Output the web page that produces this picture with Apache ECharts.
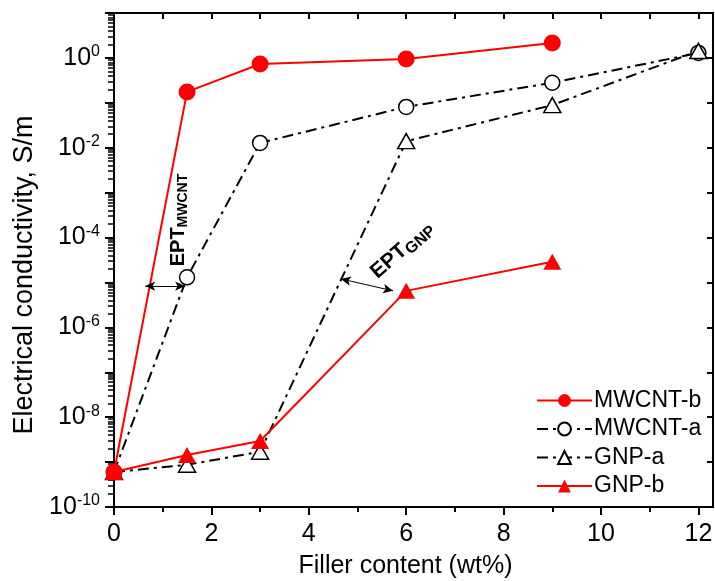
<!DOCTYPE html>
<html>
<head>
<meta charset="utf-8">
<script src="https://cdn.jsdelivr.net/npm/echarts@6/dist/echarts.min.js"></script>
<style>
  html, body { margin: 0; padding: 0; background: #fff; }
  #chart { width: 715px; height: 581px; }
</style>
</head>
<body>
<div id="chart"></div>
<script>
// filler content (wt%)
var xMwcntB = [0, 1.5, 3, 6, 9];
var yMwcntB = [6e-10, 0.175, 0.73, 0.95, 2.16];
var xMwcntA = [0, 1.5, 3, 6, 9, 12];
var yMwcntA = [6e-10, 1.3e-5, 0.0128, 0.081, 0.28, 1.29];
var xGnpA = [0, 1.5, 3, 6, 9, 12];
var yGnpA = [6e-10, 8.7e-10, 1.7e-9, 0.014, 0.089, 1.43];
var xGnpB = [0, 1.5, 3, 6, 9];
var yGnpB = [6e-10, 1.44e-9, 2.95e-9, 6.5e-6, 2.9e-5];

// ticks
var xMajor = [0, 2, 4, 6, 8, 10, 12];
var xMinor = [1, 3, 5, 7, 9, 11];
var xTop = [0, 1, 2, 3, 4, 5, 6, 7, 8, 9, 10, 11, 12];
var yLabels = [1e-10, 1e-8, 1e-6, 1e-4, 1e-2, 1];
var yDecades = [1e-10, 1e-9, 1e-8, 1e-7, 1e-6, 1e-5, 1e-4, 1e-3, 1e-2, 1e-1, 1, 10];
var yMinor = [];
for (var d = -10; d < 1; d++) {
  for (var k = 2; k <= 9; k++) yMinor.push(+(k * Math.pow(10, d)).toPrecision(3));
}

// EPT arrows (x, y pairs)
var arrowMwcnt = [[0.64, 8.3e-6], [1.46, 8.3e-6]];
var arrowGnp = [[4.66, 1.2e-5], [5.73, 6.5e-6]];

function pairs(xs, ys) {
  return xs.map(function (x, i) { return [x, ys[i]]; });
}

var font = '"Liberation Sans", Arial, sans-serif';
var hidden = { show: true, onZero: false, lineStyle: { color: 'rgba(0,0,0,0)', width: 0 } };
var chart = echarts.init(document.getElementById('chart'));

chart.setOption({
  animation: false,
  grid: { left: 114, right: 2, top: 13, bottom: 74, containLabel: false, outerBoundsMode: 'none' },
  textStyle: { fontFamily: font },
  legend: {
    orient: 'vertical',
    left: 531,
    top: 384,
    itemWidth: 55,
    itemHeight: 16,
    itemGap: 5.5,
    data: ['MWCNT-b', 'MWCNT-a', 'GNP-a', 'GNP-b'],
    textStyle: { fontSize: 23, color: '#000', fontFamily: font, padding: [0, 0, 0, -3] }
  },
  xAxis: [
    {
      type: 'value', position: 'bottom', min: 0, max: 12.3,
      name: 'Filler content (wt%)', nameLocation: 'middle', nameGap: 47,
      nameTextStyle: { fontSize: 25, color: '#000', padding: [0, 16, 0, 0] },
      axisLine: { onZero: false, lineStyle: { color: '#000', width: 2 } },
      axisTick: { show: true, inside: false, length: 8, customValues: xMajor, lineStyle: { width: 2 } },
      axisLabel: { customValues: xMajor, fontSize: 25, color: '#000', margin: 15 },
      splitLine: { show: false }
    },
    {
      type: 'value', position: 'bottom', min: 0, max: 12.3,
      axisLine: hidden,
      axisTick: { show: true, inside: false, length: 5, customValues: xMinor, lineStyle: { color: '#000', width: 2 } },
      axisLabel: { show: false },
      splitLine: { show: false }
    },
    {
      type: 'value', position: 'top', min: 0, max: 12.3,
      axisLine: { onZero: false, lineStyle: { color: '#000', width: 2 } },
      axisTick: { show: true, inside: true, length: 6, customValues: xTop, lineStyle: { width: 2 } },
      axisLabel: { show: false },
      splitLine: { show: false }
    }
  ],
  yAxis: [
    {
      type: 'log', logBase: 10, position: 'left', min: 1e-10, max: 10,
      name: 'Electrical conductivity, S/m', nameLocation: 'middle', nameGap: 66,
      nameTextStyle: { fontSize: 27, color: '#000', padding: [0, 30, 0, 0] },
      axisLine: { onZero: false, lineStyle: { color: '#000', width: 2 } },
      axisTick: { show: true, inside: false, length: 9, customValues: yDecades, lineStyle: { width: 2 } },
      axisLabel: {
        customValues: yLabels, margin: 14, color: '#000',
        formatter: function (v) {
          return '{b|10}{s|' + Math.round(Math.log10(v)) + '}';
        },
        rich: {
          b: { fontSize: 25, color: '#000', fontFamily: font },
          s: { fontSize: 16, color: '#000', fontFamily: font, verticalAlign: 'top', padding: [0, 0, 12, 0] }
        }
      },
      splitLine: { show: false }
    },
    {
      type: 'log', logBase: 10, position: 'left', min: 1e-10, max: 10,
      axisLine: hidden,
      axisTick: { show: true, inside: false, length: 6, customValues: yMinor, lineStyle: { color: '#000', width: 1.5 } },
      axisLabel: { show: false },
      splitLine: { show: false }
    },
    {
      type: 'log', logBase: 10, position: 'right', min: 1e-10, max: 10,
      axisLine: { onZero: false, lineStyle: { color: '#000', width: 2 } },
      axisTick: { show: true, inside: true, length: 6, customValues: yDecades, lineStyle: { width: 2 } },
      axisLabel: { show: false },
      splitLine: { show: false }
    }
  ],
  series: [
    {
      name: 'MWCNT-b', type: 'line', data: pairs(xMwcntB, yMwcntB),
      symbol: 'circle', symbolSize: 17,
      lineStyle: { color: '#ff0000', width: 2 },
      itemStyle: { color: '#ff0000' },
      z: 4
    },
    {
      name: 'MWCNT-a', type: 'line', data: pairs(xMwcntA, yMwcntA),
      symbol: 'circle', symbolSize: 15,
      lineStyle: { color: '#000', width: 2, type: [11, 5, 3, 5] },
      itemStyle: { color: '#fff', borderColor: '#000', borderWidth: 1.5 },
      z: 3
    },
    {
      name: 'GNP-a', type: 'line', data: pairs(xGnpA, yGnpA),
      symbol: 'triangle', symbolSize: [17, 15],
      lineStyle: { color: '#000', width: 2, type: [11, 5, 3, 5] },
      itemStyle: { color: '#fff', borderColor: '#000', borderWidth: 1.5 },
      z: 3
    },
    {
      name: 'GNP-b', type: 'line', data: pairs(xGnpB, yGnpB),
      symbol: 'triangle', symbolSize: [18, 16],
      lineStyle: { color: '#ff0000', width: 2 },
      itemStyle: { color: '#ff0000' },
      z: 4,
      markLine: {
        silent: true,
        symbol: ['arrow', 'arrow'],
        symbolSize: [7, 10],
        label: { show: false },
        lineStyle: { color: '#000', width: 1, type: 'solid' },
        data: [
          [{ coord: arrowMwcnt[0] }, { coord: arrowMwcnt[1] }],
          [{ coord: arrowGnp[0] }, { coord: arrowGnp[1] }]
        ]
      }
    }
  ],
  graphic: [
    {
      type: 'text', x: 178, y: 220, rotation: Math.PI / 2,
      style: {
        text: '{a|EPT}{b|MWCNT}', align: 'center', verticalAlign: 'middle',
        rich: {
          a: { fontSize: 20, fontWeight: 'bold', fill: '#000', fontFamily: font },
          b: { fontSize: 14, fontWeight: 'bold', fill: '#000', fontFamily: font, verticalAlign: 'bottom', padding: [10, 0, 0, 0] }
        }
      }
    },
    {
      type: 'text', x: 402, y: 250, rotation: 0.72,
      style: {
        text: '{a|EPT}{b|GNP}', align: 'center', verticalAlign: 'middle',
        rich: {
          a: { fontSize: 21, fontWeight: 'bold', fill: '#000', fontFamily: font },
          b: { fontSize: 16, fontWeight: 'bold', fill: '#000', fontFamily: font, verticalAlign: 'bottom', padding: [10, 0, 0, 0] }
        }
      }
    }
  ]
});
</script>
</body>
</html>
